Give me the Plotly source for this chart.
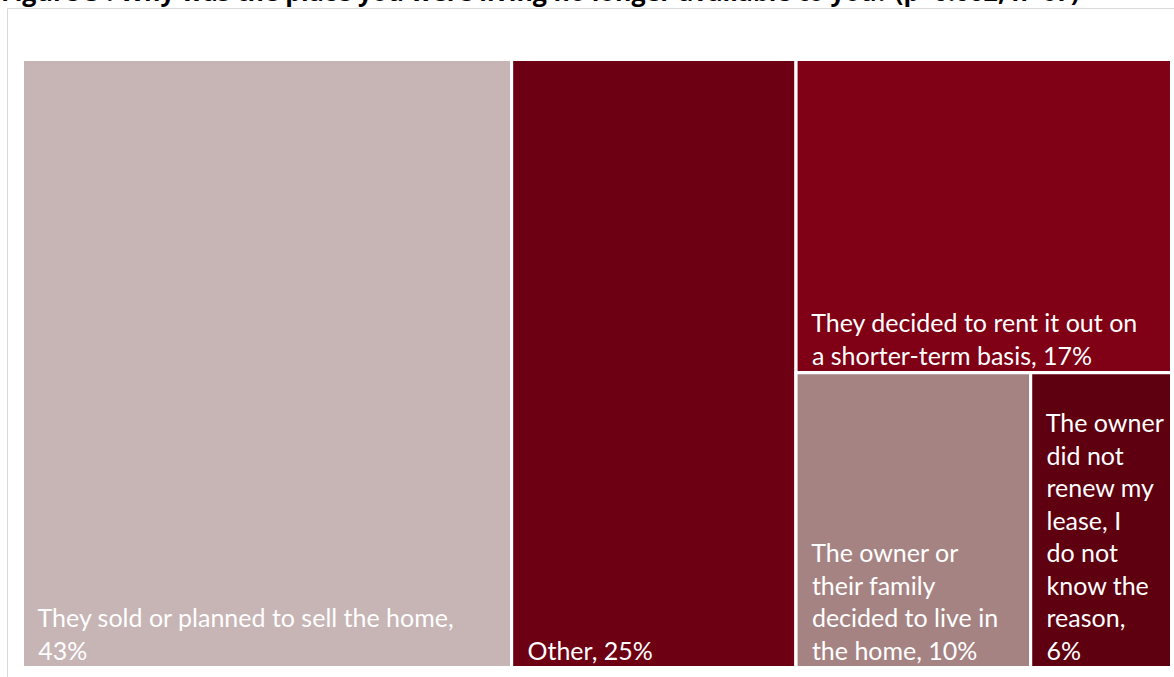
import plotly.graph_objects as go

# Reasons the previous home was no longer available (share of respondents, %)
reasons = [
    "They sold or planned to sell the home",
    "Other",
    "They decided to rent it out on<br>a shorter-term basis",
    "The owner or<br>their family<br>decided to live in<br>the home",
    "The owner<br>did not<br>renew my<br>lease, I<br>do not<br>know the<br>reason",
]
shares = [43, 25, 17, 10, 6]
value_on_new_line = [True, False, False, False, True]
colors = ["#C7B4B5", "#6D0012", "#800016", "#A68383", "#5E000F"]

# Tile captions: "reason, share%" with a small indent on every line
indent = "\u00a0\u00a0"
captions = []
for reason, share, newline in zip(reasons, shares, value_on_new_line):
    caption = reason + (",<br>" if newline else ", ") + f"{share}%"
    captions.append(indent + caption.replace("<br>", "<br>" + indent))

# Grouping that places the three smaller reasons in a right-hand column,
# with the two smallest side by side underneath.
ids = ["r0", "r1", "right", "r2", "bottom", "r3", "r4"]
parents = ["", "", "", "right", "right", "bottom", "bottom"]
labels = [reasons[0], reasons[1], "", reasons[2], "", reasons[3], reasons[4]]
values = [
    shares[0],
    shares[1],
    shares[2] + shares[3] + shares[4],
    shares[2],
    shares[3] + shares[4],
    shares[3],
    shares[4],
]
tile_colors = [colors[0], colors[1], "#ffffff", colors[2], "#ffffff", colors[3], colors[4]]
texts = [captions[0], captions[1], "", captions[2], "", captions[3], captions[4]]

W, H = 1174, 677

fig = go.Figure(
    go.Treemap(
        ids=ids,
        parents=parents,
        labels=labels,
        values=values,
        text=texts,
        branchvalues="total",
        sort=False,
        tiling=dict(packing="slice-dice", pad=0),
        marker=dict(
            colors=tile_colors,
            line=dict(color="#ffffff", width=3),
            pad=dict(t=0, l=0, r=0, b=0),
        ),
        texttemplate="%{text}",
        textposition="bottom left",
        textfont=dict(family="Lato", size=25, color="#ffffff"),
        pathbar=dict(visible=False),
        hoverinfo="skip",
        domain=dict(x=[22.5 / W, 1171.5 / W], y=[1 - 667.5 / H, 1 - 59.5 / H]),
    )
)

fig.update_layout(
    width=W,
    height=H,
    margin=dict(l=0, r=0, t=0, b=0),
    paper_bgcolor="#ffffff",
    uniformtext=dict(minsize=25, mode="show"),
    shapes=[
        dict(
            type="rect",
            xref="paper",
            yref="paper",
            x0=7.5 / W,
            x1=1.1,
            y0=-0.1,
            y1=1 - 8.5 / H,
            line=dict(color="#D9D9D9", width=1),
            fillcolor="rgba(0,0,0,0)",
            layer="below",
        )
    ],
    annotations=[
        dict(
            text="Figure 3 : Why was the place you were living no longer available to you? (p=0.002, n=67)",
            xref="paper",
            yref="paper",
            x=0,
            y=1 - 9 / H,
            xanchor="left",
            yanchor="bottom",
            showarrow=False,
            borderpad=0,
            font=dict(family="Open Sans", size=25, color="#000000", weight="bold"),
        )
    ],
)

fig.write_html("out.html")
